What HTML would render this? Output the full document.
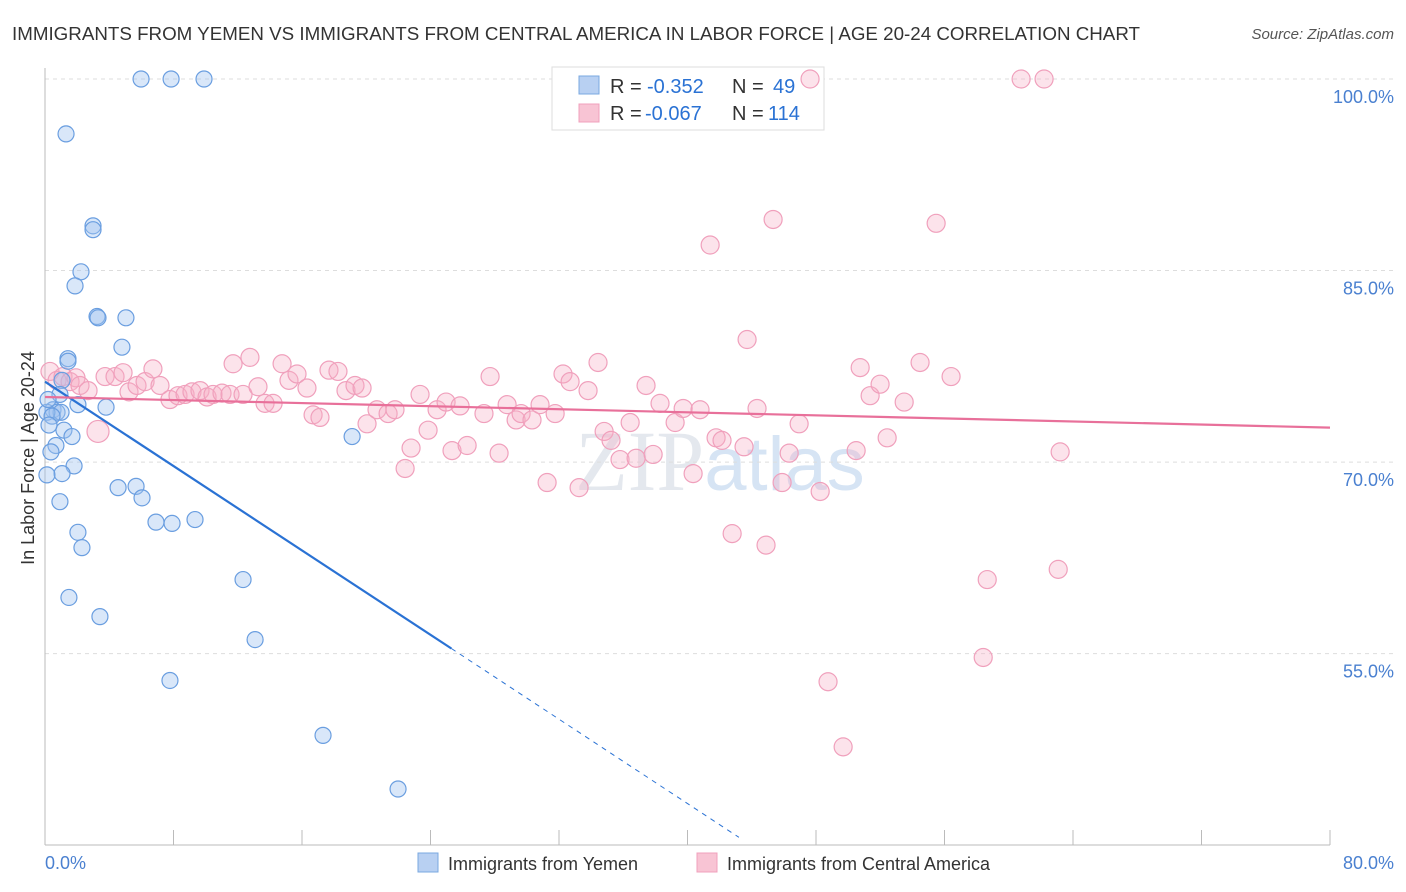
<!DOCTYPE html>
<html><head><meta charset="utf-8"><style>
body{margin:0;background:#fff;font-family:"Liberation Sans",sans-serif;}
svg{display:block}
</style></head><body>
<svg id="chart" width="1406" height="892">
<text x="12" y="40" font-size="18" fill="#333" textLength="1128" lengthAdjust="spacingAndGlyphs">IMMIGRANTS FROM YEMEN VS IMMIGRANTS FROM CENTRAL AMERICA IN LABOR FORCE | AGE 20-24 CORRELATION CHART</text>
<text x="1394" y="39" font-size="15" fill="#555" text-anchor="end" font-style="italic">Source: ZipAtlas.com</text>
<text x="720" y="490" font-size="86" fill="#e4e8ee" text-anchor="middle" font-family="Liberation Serif">ZIP<tspan fill="#d6e4f4" font-family="Liberation Sans" font-size="76">atlas</tspan></text>
<g id="grid"></g>
<g>
<rect x="552" y="67" width="272" height="63" fill="#fff" stroke="#ddd"/>
<rect x="579" y="76" width="20" height="18" fill="#b8d0f2" stroke="#7aa8e0"/>
<rect x="579" y="104" width="20" height="18" fill="#f8c4d4" stroke="#f0a0bc"/>
<text x="610" y="93" font-size="20" fill="#333">R =</text>
<text x="647" y="93" font-size="20" fill="#2a72d4">-0.352</text>
<text x="732" y="93" font-size="20" fill="#333">N =</text>
<text x="773" y="93" font-size="20" fill="#2a72d4">49</text>
<text x="610" y="120" font-size="20" fill="#333">R =</text>
<text x="645" y="120" font-size="20" fill="#2a72d4">-0.067</text>
<text x="732" y="120" font-size="20" fill="#333">N =</text>
<text x="768" y="120" font-size="20" fill="#2a72d4">114</text>
</g>
<g id="marks"></g>
<text transform="translate(34,458) rotate(-90)" font-size="18" fill="#333" text-anchor="middle">In Labor Force | Age 20-24</text>
<text x="45" y="869" font-size="18" fill="#4a80d0">0.0%</text>
<text x="1394" y="869" font-size="18" fill="#4a80d0" text-anchor="end">80.0%</text>
<g>
<rect x="418" y="853" width="20" height="19" fill="#b8d0f2" stroke="#7aa8e0"/>
<text x="448" y="870" font-size="18" fill="#333">Immigrants from Yemen</text>
<rect x="697" y="853" width="20" height="19" fill="#f8c4d4" stroke="#f0a0bc"/>
<text x="727" y="870" font-size="18" fill="#333">Immigrants from Central America</text>
</g>
</svg>
<script>
const blueX=[5.98,7.85,9.9,1.31,2.99,2.99,2.24,1.87,3.24,3.30,5.04,4.79,1.43,1.43,1.06,0.93,0.50,0.75,1.0,2.05,3.80,0.12,0.44,1.18,0.25,1.68,0.68,0.37,1.81,1.06,0.12,4.55,5.67,6.04,0.93,6.91,7.91,9.34,2.05,2.30,1.49,3.42,12.33,13.08,7.78,17.31,21.98,19.12,0.19];
const blueY=[100,100,100,95.7,88.5,88.2,84.9,83.8,81.4,81.3,81.3,79.0,78.1,77.9,76.4,75.3,74.1,73.9,73.9,74.5,74.3,73.9,73.6,72.5,72.9,72.0,71.3,70.8,69.7,69.1,69.0,68.0,68.1,67.2,66.9,65.3,65.2,65.5,64.5,63.3,59.4,57.9,60.8,56.1,52.9,48.6,44.4,72.0,74.9];
const pinkX=[0.31,0.75,1.12,1.56,1.93,2.18,2.68,3.30,3.74,4.36,4.86,5.23,5.73,6.23,6.72,7.16,7.78,8.28,8.72,9.15,9.65,10.09,10.46,11.02,11.52,12.33,11.71,12.76,13.26,13.70,14.20,14.76,15.19,15.69,16.31,16.69,17.12,17.68,18.24,18.74,19.30,19.74,20.05,20.67,21.36,21.79,22.42,22.79,23.35,23.85,24.41,24.97,25.34,25.84,26.28,27.33,27.71,28.27,28.77,29.33,29.64,30.32,30.82,31.26,31.76,32.25,32.69,33.25,33.81,34.43,34.81,35.24,35.80,36.43,36.80,37.42,37.86,38.29,39.23,39.73,40.35,40.78,41.41,41.78,42.15,42.78,43.52,43.71,44.33,44.89,45.33,45.89,46.33,46.95,47.63,48.26,48.75,49.69,50.50,50.75,51.37,51.99,52.43,53.49,54.48,55.48,56.41,58.66,58.41,60.77,62.20,63.08,63.20];
const pinkY=[77.1,76.4,76.7,76.3,76.6,76.0,75.6,72.4,76.7,76.7,77.0,75.5,76.0,76.3,77.3,76.0,74.9,75.2,75.3,75.5,75.6,75.1,75.3,75.4,75.3,75.3,77.7,78.2,75.9,74.6,74.6,77.7,76.4,76.9,75.8,73.7,73.5,77.2,77.1,75.6,76.0,75.8,73.0,74.1,73.8,74.1,69.5,71.1,75.3,72.5,74.1,74.7,70.9,74.4,71.3,73.8,76.7,70.7,74.5,73.3,73.8,73.3,74.5,68.4,73.8,76.9,76.3,68.0,75.6,77.8,72.4,71.7,70.2,73.1,70.3,76.0,70.6,74.6,73.1,74.2,69.1,74.1,87.0,71.9,71.7,64.4,71.2,79.6,74.2,63.5,89.0,68.4,70.7,73.0,100,67.7,52.8,47.7,70.9,77.4,75.2,76.1,71.9,74.7,77.8,88.7,76.7,60.8,54.7,100,100,61.6,70.8];
const yTicks=[100,85,70,55];
const yTickLabels=["100.0%","85.0%","70.0%","55.0%"];
const xTicks=[0,8,16,24,32,40,48,56,64,72,80];
const blueTrend=[76.3,-0.826];
const pinkTrend=[75.1,-0.03];
const NS="http://www.w3.org/2000/svg";
const xs=v=>45+v*1285/80;
const ys=v=>79+(100-v)*12.77;
function mk(t,a,p){const e=document.createElementNS(NS,t);for(const k in a)e.setAttribute(k,a[k]);p.appendChild(e);return e;}
const grid=document.getElementById('grid'),marks=document.getElementById('marks');
yTicks.forEach((v,i)=>{
 const l=mk('line',{x1:45,x2:1394,y1:ys(v),y2:ys(v),stroke:'#ddd','stroke-dasharray':'4,4'},grid);
 
 
 const t=mk('text',{x:1394,y:ys(v)+24,'font-size':18,fill:'#4a80d0','text-anchor':'end'},grid);
 t.textContent=yTickLabels[i];
 
 
});
const ax=mk('line',{x1:45,x2:45,y1:68,y2:845,stroke:'#bbb'},grid);


const bx=mk('line',{x1:45,x2:1330,y1:845,y2:845,stroke:'#bbb'},grid);


xTicks.forEach(v=>{
 const t=mk('line',{x1:xs(v),x2:xs(v),y1:830,y2:845,stroke:'#bbb'},grid);
 
 
});
pinkX.forEach((x,i)=>{
 const c=mk('circle',{cx:xs(x),cy:ys(pinkY[i]),r:i==7?11:9,fill:'rgba(245,175,198,0.35)',stroke:'#f0a0bc','stroke-width':1.2},marks);
 
 
});
blueX.forEach((x,i)=>{
 const c=mk('circle',{cx:xs(x),cy:ys(blueY[i]),r:8,fill:'rgba(160,195,240,0.4)',stroke:'#6a9ee0','stroke-width':1.2},marks);
 
 
});
const bf=x=>blueTrend[0]+blueTrend[1]*x, pf=x=>pinkTrend[0]+pinkTrend[1]*x;
const l1=mk('line',{x1:xs(0),y1:ys(bf(0)),x2:xs(25.3),y2:ys(bf(25.3)),stroke:'#2a72d4','stroke-width':2.2},marks);


const l2=mk('line',{x1:xs(25.3),y1:ys(bf(25.3)),x2:xs(43.2),y2:ys(bf(43.2)),stroke:'#2a72d4','stroke-width':1,'stroke-dasharray':'5,5'},marks);


const l3=mk('line',{x1:xs(0),y1:ys(pf(0)),x2:xs(80),y2:ys(pf(80)),stroke:'#e8709a','stroke-width':2.2},marks);


</script>
</body></html>
